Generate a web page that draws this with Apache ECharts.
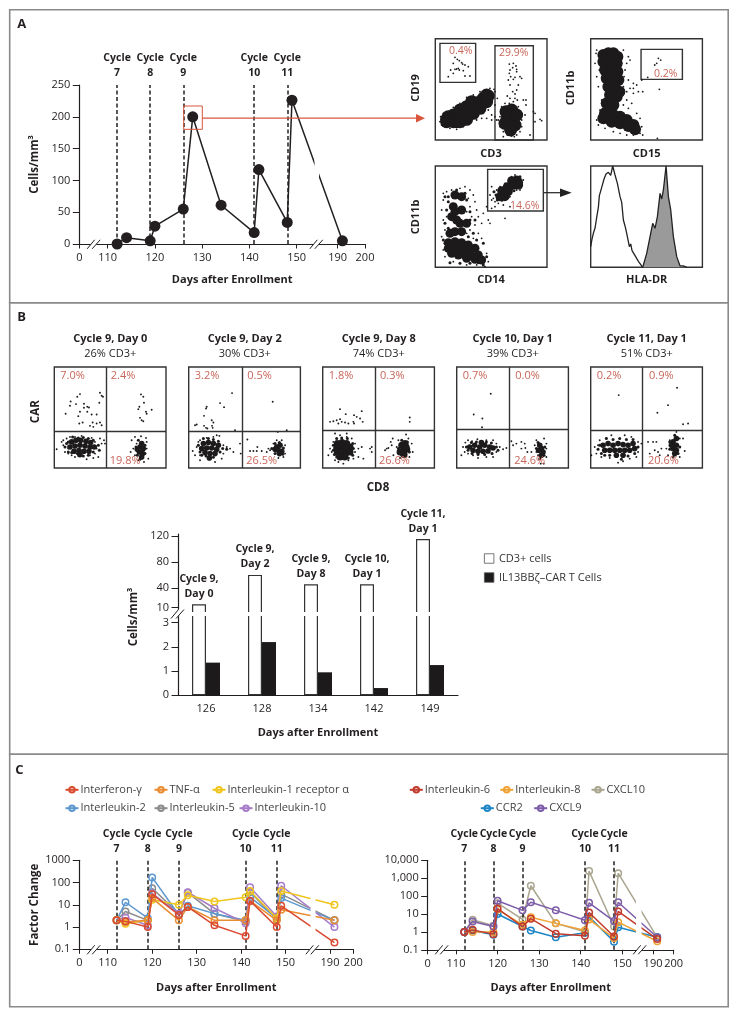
<!DOCTYPE html>
<html><head><meta charset="utf-8">
<style>html,body{margin:0;padding:0;background:#fff}#c{width:738px;height:1017px}</style>
<script src="https://cdn.jsdelivr.net/npm/echarts@6/dist/echarts.min.js"></script>
</head><body><div id="c"></div>
<script>
// ---------- Panel A time course ----------
const daysA=[112,114,119,120,126,128,134,141,142,148,149,191];
const cellsA=[0,10,5,28,55,200,61,18,117,34,226,5];
const cycleDays=[112,119,126,141,148];
const cycleNames=['7','8','9','10','11'];
const dayTicks=[0,110,120,130,140,150,190,200];
// ---------- Panel C ----------
const daysC=[112,114,119,120,126,128,134,141,142,148,149,191];
const interferonG=[2,1.8,1,30,3.5,8,1.2,0.4,15,1,9,0.2];
const tnfA=[2,1.7,2,20,2,8,2,2,15,2,6,2];
const il1Ra=[2,1.4,2,17,10,27,14,22,42,2.5,42,10];
const il2=[2,13,2.5,170,3.5,9,4,2,22,2.5,20,2];
const il5=[2,5,2,55,4,35,4,1.8,38,2.2,30,2];
const il10=[2,2.7,1.2,33,4,37,7,1.5,62,3,72,1];
const il6=[1,1.3,0.75,20,2,5.5,0.8,0.6,12,0.55,14,0.4];
const il8=[1,1,1,18,2.5,6.5,3,1.2,5,0.45,3.5,0.3];
const cxcl10=[1,4.8,2.2,40,5,380,3,1,2500,2,1900,0.5];
const ccr2=[1,1.2,0.7,10,2,1.2,0.5,0.9,7,0.28,1.8,0.5];
const cxcl9=[1,3.8,2,55,16,45,16,4.5,42,4,45,0.5];
// ---------- Panel B bars ----------
const barDays=['126','128','134','142','149'];
const barCycle=['Cycle 9,\nDay 0','Cycle 9,\nDay 2','Cycle 9,\nDay 8','Cycle 10,\nDay 1','Cycle 11,\nDay 1'];
const cd3Cells=[15,60,45.5,45.5,115];
const carCells=[1.35,2.2,0.95,0.3,1.25];
// ---------- Flow plots, in the channel units of each plot ----------
const a1Dense=[[85,300],[100,300],[115,295],[130,285],[145,270],[160,260],[175,250],[190,235],[200,225],[100,285],[120,275],[140,260],[155,245],[85,290],[110,305],[130,298],[80,298],[80,305],[100,305],[120,270],[120,305],[140,262],[140,298],[160,248],[160,280],[180,245],[180,265],[200,228],[200,245],[205,228],[258,275],[275,270],[262,295],[280,295],[270,315],[255,310],[285,315],[272,330],[290,285]];
const a1Sparse=[[62,290],[60,305],[65,315],[75,320],[90,325],[110,328],[130,320],[150,305],[170,290],[190,280],[205,270],[215,285],[200,295],[215,300],[225,215],[222,208],[210,205],[180,215],[160,225],[140,232],[120,250],[100,262],[80,275],[70,280],[230,300],[225,290],[150,300],[170,300],[185,295],[240,290],[235,300],[305,300],[305,320],[240,320],[290,345],[262,345],[250,335],[275,348],[300,335],[268,250],[280,245],[255,250],[245,260],[295,260],[285,235],[270,235],[292,240],[262,228],[278,215],[290,210],[285,222],[270,195],[265,180],[280,178],[272,170],[285,172],[268,160],[290,155],[270,150],[278,143],[268,132],[280,130],[288,138],[290,148],[305,175],[318,240],[318,255],[232,235],[225,255],[340,275],[345,280],[360,298],[365,302],[345,305],[315,285],[330,345],[250,350],[283,350],[310,240],[295,195],[300,170],[105,112],[112,118],[118,122],[125,128],[100,130],[92,150],[105,148],[115,145],[128,132],[135,135],[130,152],[145,140],[150,168],[135,168],[100,160],[85,170],[118,150],[110,147]];
const a2Dense=[[550,105],[565,100],[580,100],[592,110],[550,125],[570,130],[590,130],[555,150],[575,155],[592,155],[560,175],[578,180],[595,180],[565,200],[585,205],[570,225],[590,230],[560,250],[580,255],[598,215],[555,280],[580,285],[600,290],[620,300],[640,315],[550,295],[575,305],[600,310],[625,318],[645,328],[565,270]];
const a2Sparse=[[530,90],[528,100],[525,130],[610,90],[625,110],[630,120],[620,130],[615,150],[625,180],[630,205],[640,190],[650,195],[665,180],[640,220],[620,240],[635,250],[610,255],[650,280],[660,295],[665,320],[668,345],[660,340],[530,300],[535,315],[540,270],[545,240],[535,200],[530,170],[538,150],[620,345],[600,340],[580,335],[555,325],[640,345],[712,355],[715,115],[722,120],[710,130],[704,135],[683,172],[718,208],[668,215],[640,205],[655,215],[610,200],[620,215],[612,170],[625,265]];
const a3Dense=[[85,668],[105,665],[125,668],[145,675],[165,685],[85,685],[105,685],[125,685],[145,695],[95,700],[115,705],[135,705],[155,708],[175,705],[140,715],[165,718],[185,720],[105,525],[125,530],[100,560],[125,570],[105,575],[95,590],[120,610],[105,635],[125,635],[140,610],[90,640],[110,600],[290,480],[280,490],[270,500],[260,510],[250,520],[240,530],[285,495],[265,515],[295,485],[275,482],[296,495],[255,530],[245,512],[262,500]];
const a3Mid=[[75,530],[85,545],[140,540],[150,575],[80,570],[75,610],[150,600],[160,640],[85,625],[145,650],[170,660],[190,670],[70,660],[75,670],[200,710],[190,735],[175,728],[120,730],[90,728],[150,730],[165,600],[135,520],[85,530],[110,510],[228,525],[232,540],[222,515],[300,470],[305,488],[282,512],[265,530],[246,541]];
const a3Sparse=[[70,520],[80,515],[95,510],[120,505],[135,500],[150,510],[160,525],[145,535],[165,545],[150,560],[170,570],[140,575],[155,590],[175,590],[185,610],[165,615],[205,600],[210,610],[150,630],[175,640],[140,640],[160,655],[185,655],[70,540],[65,570],[70,600],[75,630],[65,650],[80,590],[200,560],[190,580],[215,540],[255,595],[70,690],[75,710],[200,700],[205,725],[195,740],[140,735],[100,725],[170,735],[220,535],[215,500],[210,525],[225,545],[235,550],[310,480],[305,495],[285,465],[275,470],[255,490],[240,500],[230,510],[300,510],[290,510],[270,530],[255,540],[250,555],[270,560],[225,560],[215,565]];
const hlaOutlineX=[512,516,520,525,530,535,538,545,552,558,565,572,578,585,592,600,605,610,616,620,628,632,636,645,655,668];
const hlaOutlineY=[62,85,102,118,150,180,215,240,265,280,285,276,304,277,252,212,195,142,120,102,62,70,50,35,18,0];
const hlaGreyX=[668,680,690,698,705,712,720,725,730,738,745,752,760,770,780,790,800];
const hlaGreyY=[0,42,92,132,117,152,222,205,232,304,212,172,92,32,4,4,0];
const b1Core=[[215,410],[228,405],[242,405],[258,408],[272,412],[210,425],[225,422],[240,420],[255,422],[270,425],[283,425],[222,438],[237,436],[252,438],[267,438],[240,448],[425,415],[420,425],[430,430],[418,440],[428,445],[425,455],[412,432]];
const b1Mid=[[200,415],[205,410],[195,425],[218,395],[235,398],[250,397],[265,400],[280,405],[295,420],[298,435],[280,440],[265,450],[250,452],[232,445],[215,442],[205,440],[408,425],[435,420],[415,405],[435,445],[412,450],[420,462]];
const b1Dots=[[170,432],[185,410],[190,420],[195,440],[200,400],[205,430],[210,395],[215,450],[225,395],[235,452],[245,392],[260,462],[270,450],[275,398],[285,410],[290,430],[285,445],[300,400],[305,415],[312,405],[315,415],[295,455],[190,405],[205,445],[225,455],[280,458],[395,405],[405,395],[423,393],[440,410],[438,398],[410,415],[440,430],[392,440],[400,430],[445,460],[405,450],[415,465],[432,470],[240,267],[232,275],[212,289],[210,302],[228,297],[252,296],[262,305],[267,307],[252,308],[197,326],[240,320],[235,333],[262,320],[275,328],[290,328],[298,293],[300,263],[305,272],[309,275],[248,352],[238,355],[270,362],[280,365],[290,355],[300,352],[305,360],[278,352],[423,268],[430,275],[432,293],[418,305],[415,312],[438,320],[455,314],[440,326],[420,338],[425,345],[430,348]];
const b2Core=[[610,415],[625,412],[640,415],[655,420],[605,430],[620,428],[635,428],[650,432],[615,442],[630,445],[645,445],[628,458],[830,425],[840,420],[835,435],[845,438],[825,432],[838,445]];
const b2Mid=[[595,420],[600,440],[610,400],[625,400],[640,403],[655,408],[668,430],[660,440],[640,456],[618,452],[605,450],[680,432],[815,430],[825,415],[850,428],[848,447],[825,445],[838,412]];
const b2Dots=[[696,264],[660,294],[672,306],[620,305],[618,310],[612,332],[635,345],[640,352],[585,360],[590,358],[612,362],[618,368],[622,370],[636,362],[638,368],[705,375],[818,290],[833,380],[860,375],[578,437],[590,425],[595,410],[600,450],[585,450],[600,465],[650,390],[658,392],[640,395],[620,398],[670,420],[680,425],[690,430],[700,440],[670,445],[665,460],[645,470],[720,415],[722,445],[600,405],[742,403],[750,437],[760,437],[770,437],[772,425],[785,437],[805,430],[810,435],[800,440],[820,415],[830,405],[845,405],[855,420],[855,445],[850,455],[835,458]];
const b3Core=[[1012,415],[1026,412],[1040,415],[1050,425],[1010,428],[1024,425],[1038,428],[1012,442],[1026,440],[1040,442],[1050,440],[1020,455],[1034,455],[1205,420],[1215,415],[1210,435],[1220,432],[1200,440],[1212,448],[1218,425]];
const b3Mid=[[1000,420],[1000,435],[1010,400],[1025,398],[1042,400],[1058,415],[1060,430],[1058,450],[1045,458],[1010,455],[1003,448],[1195,430],[1228,440],[1205,405],[1222,410],[1205,450]];
const b3Dots=[[1020,312],[1037,327],[1062,330],[1085,318],[990,350],[1000,348],[1010,345],[1020,342],[1025,350],[1035,352],[1045,355],[1060,350],[1070,335],[1080,340],[1088,350],[1062,355],[1015,355],[1229,337],[1229,350],[985,450],[990,430],[1000,410],[995,440],[1005,465],[1015,470],[1030,475],[1045,465],[1060,460],[1075,455],[1065,440],[1075,430],[1065,415],[1055,400],[1040,395],[1020,390],[1005,385],[1040,385],[1085,425],[1090,460],[1110,430],[1115,425],[1115,440],[1155,435],[1160,430],[1165,428],[1175,420],[1178,400],[1172,410],[1190,425],[1195,405],[1218,388],[1225,400],[1235,415],[1238,440],[1228,455],[1200,458],[1180,450]];
const b4Core=[[305,425],[320,420],[335,425],[350,420],[365,425],[315,435],[330,438],[345,438],[360,437],[375,428],[340,412],[515,420],[520,430],[512,435],[525,440],[520,450]];
const b4Mid=[[295,425],[300,435],[310,412],[325,410],[355,410],[370,413],[385,425],[390,435],[372,445],[350,448],[330,448],[312,445],[505,430],[530,425],[510,412],[528,450],[515,460]];
const b4Dots=[[368,266],[317,328],[343,340],[342,366],[285,425],[280,450],[292,412],[290,440],[300,405],[312,408],[328,402],[355,405],[375,405],[385,415],[395,425],[405,432],[415,428],[385,440],[375,455],[355,455],[330,458],[315,450],[300,445],[430,408],[435,420],[445,415],[460,410],[470,415],[460,430],[472,428],[478,440],[490,440],[505,405],[528,400],[535,415],[500,420],[535,455],[510,450],[527,475],[518,475],[505,440],[535,430]];
const b5Core=[[705,420],[720,415],[735,420],[750,415],[765,418],[780,420],[795,415],[710,435],[725,435],[740,435],[755,435],[770,435],[785,435],[800,430],[745,450],[765,450],[915,410],[925,420],[915,430],[925,435],[920,445],[910,420],[925,400]];
const b5Mid=[[690,432],[695,420],[700,445],[715,400],[735,403],[755,400],[775,403],[795,403],[810,425],[800,445],[780,452],[725,450],[710,450],[760,462],[905,432],[935,425],[905,410],[930,445],[920,390],[915,455]];
const b5Dots=[[752,270],[927,248],[900,300],[868,323],[945,357],[960,355],[680,425],[670,450],[685,445],[695,405],[715,398],[730,390],[770,390],[790,395],[810,410],[820,415],[810,440],[805,455],[785,460],[765,468],[750,472],[725,458],[700,455],[690,420],[840,410],[855,410],[865,410],[845,445],[860,435],[870,440],[875,450],[895,430],[905,405],[935,400],[945,400],[950,437],[935,455],[900,450],[880,430],[925,380],[925,395]];

// ---------- styles ----------
const FONT='"Open Sans"', INK='#231f20', RED='#c9665a', ARROW='#d9553c', FRAME='#8a8a8a';
const grid=[],xAxis=[],yAxis=[],series=[],graphic=[],legend=[];
const txt=(x,y,text,o={})=>graphic.push({type:'text',x,y,z:60,rotation:o.rot||0,style:{text,fill:o.fill||INK,font:`${o.bold?'700 ':''}${o.size||11}px ${FONT}`,textAlign:o.align||'center',textVerticalAlign:'middle'}});
const seg=(x1,y1,x2,y2,stroke=INK,w=1)=>graphic.push({type:'line',z:60,shape:{x1,y1,x2,y2},style:{stroke,lineWidth:w}});
const rect=(x,y,width,height,style,z=55)=>graphic.push({type:'rect',z,shape:{x,y,width,height},style});
const slash=(cx,cy)=>{graphic.push({type:'polygon',z:58,shape:{points:[[cx-6.5,cy+4.5],[cx-1,cy+4.5],[cx+6.5,cy-4.5],[cx+1,cy-4.5]]},style:{fill:'#fff'}});
  seg(cx-6.5,cy+4.5,cx+1,cy-4.5);seg(cx-1.5,cy+4.5,cx+6.5,cy-4.5);};
const axText={fontFamily:FONT,fontSize:11,color:INK};

function addDayGrid(box,breaks,yOpt,nameGapX,namePad){
  const i=grid.length;
  grid.push({left:box[0],top:box[1],width:box[2],height:box[3]});
  xAxis.push({type:'value',gridIndex:i,min:0,max:200,breaks,breakArea:{show:false},
    axisLine:{show:true,lineStyle:{color:INK,width:1.2},breakLine:false},axisTick:{show:true,length:4.5,lineStyle:{color:INK},customValues:dayTicks},
    axisLabel:{...axText,margin:8.5,customValues:dayTicks,hideOverlap:false},splitLine:{show:false},
    name:'Days after Enrollment',nameLocation:'middle',nameGap:nameGapX,nameTextStyle:{fontFamily:FONT,fontSize:11,fontWeight:700,color:INK,padding:[0,0,0,namePad]}});
  yAxis.push(Object.assign({gridIndex:i,splitLine:{show:false},axisLine:{show:true,lineStyle:{color:INK,width:1.2}},
    axisTick:{show:true,length:6.5,lineStyle:{color:INK}},axisLabel:{...axText,margin:9},
    nameLocation:'middle',nameGap:39,nameRotate:90,nameTextStyle:{fontFamily:FONT,fontSize:11.5,fontWeight:700,color:INK}},yOpt));
  return i;
}
const cycleMark=()=>({silent:true,symbol:'none',animation:false,
  lineStyle:{type:[4,2.5],color:INK,width:1.5},
  label:{show:true,position:'end',distance:4,formatter:'{b}',fontFamily:FONT,fontSize:10.5,fontWeight:700,color:INK,lineHeight:15},
  data:cycleDays.map((d,i)=>({xAxis:d,name:'Cycle\n'+cycleNames[i]}))});

// Panel A line
{
  const g=addDayGrid([79.3,85,285.7,159],[{start:2,end:108,gap:2},{start:152,end:188,gap:4.67},{start:192,end:198,gap:1.78}],
    {type:'value',min:0,max:250,interval:50,name:'Cells/mm³'},30,20);
  series.push({type:'line',xAxisIndex:g,yAxisIndex:g,data:daysA.map((d,i)=>[d,cellsA[i]]),z:4,symbol:'circle',symbolSize:11,
    itemStyle:{color:INK},lineStyle:{color:INK,width:1.5},markLine:cycleMark()});
}
// flow plots
function flow(box,xr,yr,layers,extra={}){
  const i=grid.length;
  grid.push({left:box[0],top:box[1],width:box[2],height:box[3],show:true,borderColor:'#333',borderWidth:1.4,backgroundColor:'#fff'});
  xAxis.push({type:'value',gridIndex:i,min:xr[0],max:xr[1],show:false});
  yAxis.push({type:'value',gridIndex:i,min:yr[0],max:yr[1],inverse:true,show:false});
  layers.forEach((l,k)=>{
    const s={type:'scatter',xAxisIndex:i,yAxisIndex:i,data:l[0],symbol:'circle',symbolSize:l[1],itemStyle:{color:'#1c1a1b',opacity:1},z:3,silent:true,large:false};
    if(k===0&&extra.lines)s.markLine={silent:true,symbol:'none',animation:false,lineStyle:{type:'solid',color:'#333',width:1.4},label:{show:false},data:extra.lines};
    if(k===0&&extra.gates)s.markArea={silent:true,animation:false,itemStyle:{color:'rgba(0,0,0,0)',borderColor:'#333',borderWidth:1.4},label:{show:false},data:extra.gates.map(g=>[{coord:[g[0],g[1]]},{coord:[g[2],g[3]]}])};
    series.push(s);
  });
}
flow([435.3,38.7,111.7,101.3],[46,381],[56,360],[[a1Dense,13],[a1Sparse,1.8]],{gates:[[60,70,167,187],[225,77,340,360]]});
flow([590.7,38.7,111.7,101.3],[512,847],[56,360],[[a2Dense,12],[a2Sparse,1.8]],{gates:[[663,88,787,178]]});
flow([435.3,166,111.7,101.3],[46,381],[438,742],[[a3Dense,9],[a3Mid,3],[a3Sparse,1.8]],{gates:[[203,448,370,573]]});
// histogram
{
  const i=grid.length;
  grid.push({left:590.7,top:166,width:111.7,height:101.3,show:true,borderColor:'#333',borderWidth:1.4,backgroundColor:'#fff'});
  xAxis.push({type:'value',gridIndex:i,min:512,max:847,show:false});
  yAxis.push({type:'value',gridIndex:i,min:0,max:304,show:false});
  series.push({type:'line',xAxisIndex:i,yAxisIndex:i,symbol:'none',silent:true,data:hlaOutlineX.map((x,k)=>[x,hlaOutlineY[k]]),lineStyle:{color:'#222',width:1.3}});
  series.push({type:'line',xAxisIndex:i,yAxisIndex:i,symbol:'none',silent:true,data:hlaGreyX.map((x,k)=>[x,hlaGreyY[k]]),lineStyle:{color:'#222',width:1.3},areaStyle:{color:'#9a9a9a',opacity:1}});
}
// Panel B plots
const bBoxes=[54.3,188.7,322.7,456.7,590.7];
const bRanges=[[163,498],[566,901],[968,1303],[266,601],[668,1003]];
const bV=[318,727,1126,425,823], bH=[377,377,375,373,375];
const bPts=[[b1Core,b1Mid,b1Dots],[b2Core,b2Mid,b2Dots],[b3Core,b3Mid,b3Dots],[b4Core,b4Mid,b4Dots],[b5Core,b5Mid,b5Dots]];
const bTitles=['Cycle 9, Day 0','Cycle 9, Day 2','Cycle 9, Day 8','Cycle 10, Day 1','Cycle 11, Day 1'];
const bSubs=['26% CD3+','30% CD3+','74% CD3+','39% CD3+','51% CD3+'];
const bUL=['7.0%','3.2%','1.8%','0.7%','0.2%'],bUR=['2.4%','0.5%','0.3%','0.0%','0.9%'],bLR=['19.8%','26.5%','26.6%','24.6%','20.6%'];
const bURx=[110.7,247.3,380,515.3,649];
bBoxes.forEach((x,i)=>{
  flow([x,367,111.7,101],bRanges[i],[186,488],[[bPts[i][0],i===2?7:5.6],[bPts[i][1],3],[bPts[i][2],1.9]],{lines:[{xAxis:bV[i]},{yAxis:bH[i]}]});
  txt(x+56,338.7,bTitles[i],{bold:true});
  txt(x+56,353.7,bSubs[i]);
  txt(x+6,375.7,bUL[i],{fill:RED,align:'left'});
  txt(bURx[i],375.7,bUR[i],{fill:RED,align:'left'});
  txt(bURx[i]-1,461,bLR[i],{fill:RED,align:'left'});
});
// Bars: upper (10-120) and lower (0-3) scale
{
  const u=grid.length;
  grid.push({left:178,top:534,width:280,height:80});
  xAxis.push({type:'category',gridIndex:u,data:barDays,show:false});
  yAxis.push({type:'value',gridIndex:u,min:0,max:122.7,splitLine:{show:false},axisLine:{show:true,lineStyle:{color:INK,width:1.2}},
    axisTick:{show:true,length:6.5,lineStyle:{color:INK},customValues:[10,40,80,120]},axisLabel:{...axText,margin:9,customValues:[10,40,80,120]}});
  const bs={type:'bar',barWidth:14,barGap:'0%',silent:true};
  series.push({...bs,name:'CD3+ cells',xAxisIndex:u,yAxisIndex:u,data:cd3Cells,itemStyle:{color:'#fff',borderColor:'#333',borderWidth:1.2},
    label:{show:true,position:'top',distance:3,fontFamily:FONT,fontSize:10.5,fontWeight:700,color:INK,lineHeight:15,formatter:p=>barCycle[p.dataIndex]}});
  series.push({...bs,name:'IL13BBζ–CAR T Cells',xAxisIndex:u,yAxisIndex:u,data:carCells.map(()=>null),itemStyle:{color:'#1c1a1b'}});
  const l=grid.length;
  grid.push({left:178,top:614,width:280,height:81.3});
  xAxis.push({type:'category',gridIndex:l,data:barDays,axisTick:{show:false},axisLine:{lineStyle:{color:INK,width:1.2}},axisLabel:{...axText,margin:8},
    name:'Days after Enrollment',nameLocation:'middle',nameGap:32,nameTextStyle:{fontFamily:FONT,fontSize:11,fontWeight:700,color:INK}});
  yAxis.push({type:'value',gridIndex:l,min:0,max:3.36,splitLine:{show:false},axisLine:{show:true,lineStyle:{color:INK,width:1.2}},
    axisTick:{show:true,length:6.5,lineStyle:{color:INK},customValues:[0,1,2,3]},axisLabel:{...axText,margin:9,customValues:[0,1,2,3]}});
  series.push({...bs,name:'CD3+ cells',xAxisIndex:l,yAxisIndex:l,data:cd3Cells,itemStyle:{color:'#fff',borderColor:'#333',borderWidth:1.2}});
  series.push({...bs,name:'IL13BBζ–CAR T Cells',xAxisIndex:l,yAxisIndex:l,data:carCells,itemStyle:{color:'#1c1a1b'}});
  rect(184,612,256,4,{fill:'#fff'});
  legend.push({show:true,orient:'vertical',left:484,top:553,padding:0,itemWidth:9.5,itemHeight:9.5,itemGap:8,icon:'rect',itemStyle:{borderWidth:0.8,borderColor:'#555'},
    textStyle:{fontFamily:FONT,fontSize:11,color:'#333',padding:[0,0,0,0]},data:['CD3+ cells','IL13BBζ–CAR T Cells'],selectedMode:false});
}
// Panel C
function cytokinePanel(box,breaks,yOpt,list){
  const g=addDayGrid(box,breaks,yOpt,33,0);
  list.forEach((s,k)=>{
    const o={type:'line',name:s[0],xAxisIndex:g,yAxisIndex:g,data:daysC.map((d,i)=>[d,s[1][i]]),symbol:'circle',symbolSize:6.5,z:4+k,silent:true,
      itemStyle:{color:'rgba(255,255,255,0)',borderColor:s[2],borderWidth:1.5},lineStyle:{color:s[2],width:1.5}};
    if(k===0)o.markLine=cycleMark();
    series.push(o);
    legend.push({show:true,left:s[3]-1.5,top:s[4]-5,padding:0,itemWidth:13,itemHeight:7,itemGap:0,selectedMode:false,
      textStyle:{fontFamily:FONT,fontSize:11,color:'#444',padding:[0,0,0,-3]},data:[s[0]]});
  });
}
cytokinePanel([79.3,860.3,274,89],[{start:2,end:108,gap:2.38},{start:152,end:188,gap:5.96},{start:192,end:198,gap:1.24}],
  {type:'log',logBase:10,min:0.1,max:1000,name:'Factor Change',axisLabel:{...axText,margin:9,formatter:v=>String(v)}},
  [['Interleukin-5',il5,'#8b8b8b',155,807.7],['Interleukin-2',il2,'#5c97d0',66,807.7],['Interleukin-10',il10,'#a67cc8',240,807.7],['Interleukin-1 receptor α',il1Ra,'#f0c51d',213,789.3],['TNF-α',tnfA,'#ea8c30',155,789.3],['Interferon-γ',interferonG,'#d94a30',66,789.3]]);
cytokinePanel([427.7,860.3,246,89.5],[{start:2,end:108,gap:2.8},{start:152,end:188,gap:3.38},{start:192,end:198,gap:0.97}],
  {type:'log',logBase:10,min:0.1,max:10000,axisLabel:{...axText,margin:9,formatter:v=>v>=1000?String(v).replace(/\B(?=(\d{3})+$)/,','):String(v)}},
  [['CXCL10',cxcl10,'#a9a58f',592,789.3],['CCR2',ccr2,'#1d86c6',481.3,807.7],['Interleukin-8',il8,'#f0a233',500.7,789.3],['CXCL9',cxcl9,'#7d5ca8',534.7,807.7],['Interleukin-6',il6,'#c23b2c',410.3,789.3]]);

// frames and labels
rect(9.7,9.7,718.5,293,{fill:'none',stroke:FRAME,lineWidth:1.6},1);
rect(9.7,302.7,718.5,451.5,{fill:'none',stroke:FRAME,lineWidth:1.6},1);
rect(9.7,754.2,718.5,252.5,{fill:'none',stroke:FRAME,lineWidth:1.6},1);
txt(21.7,24,'A',{bold:true,size:13});txt(21.7,317.7,'B',{bold:true,size:13});txt(19.3,770,'C',{bold:true,size:13});
// line breaks and slashes
rect(314.5,90,4.5,148,{fill:'#fff'});
rect(310.5,865,5,80,{fill:'#fff'});
rect(636,865,5.5,80,{fill:'#fff'});
[[93.7,244.3],[316.3,244.3],[93.7,949.8],[312.3,949.8],[441.7,949.8],[639.7,949.8],[177.5,614]].forEach(p=>slash(p[0],p[1]));
// gate and arrows
rect(183.7,106,18.6,23.3,{fill:'none',stroke:ARROW,lineWidth:1});
seg(202.3,118.2,418,118.2,ARROW,1.2);
graphic.push({type:'polygon',z:60,shape:{points:[[416,114],[425,118.2],[416,122.4]]},style:{fill:ARROW}});
seg(544,192.7,563,192.7,'#222',1.2);
graphic.push({type:'polygon',z:60,shape:{points:[[560,188.5],[571.7,192.7],[560,196.9]]},style:{fill:'#222'}});
// flow axis labels
const R=Math.PI/2;
txt(416,88,'CD19',{bold:true,rot:R});txt(416,217,'CD11b',{bold:true,rot:R});txt(570.7,88,'CD11b',{bold:true,rot:R});
txt(491,153.7,'CD3',{bold:true});txt(646.7,153.7,'CD15',{bold:true});txt(491,280,'CD14',{bold:true});txt(646.7,280,'HLA-DR',{bold:true});
txt(449,51,'0.4%',{fill:RED,size:10.5,align:'left'});txt(499,52.7,'29.9%',{fill:RED,size:10.5,align:'left'});
txt(654,74,'0.2%',{fill:RED,size:10.5,align:'left'});txt(510,205.7,'14.6%',{fill:RED,size:10.5,align:'left'});
txt(36,411.7,'CAR',{bold:true,rot:R,size:11.5});txt(378,487.7,'CD8',{bold:true,size:11.5});
txt(134,617,'Cells/mm³',{bold:true,rot:R,size:11.5});

const chart=echarts.init(document.getElementById('c'),null,{renderer:'canvas'});
chart.setOption({animation:false,backgroundColor:'#fff',textStyle:{fontFamily:FONT},grid,xAxis,yAxis,series,legend,graphic});
</script></body></html>
